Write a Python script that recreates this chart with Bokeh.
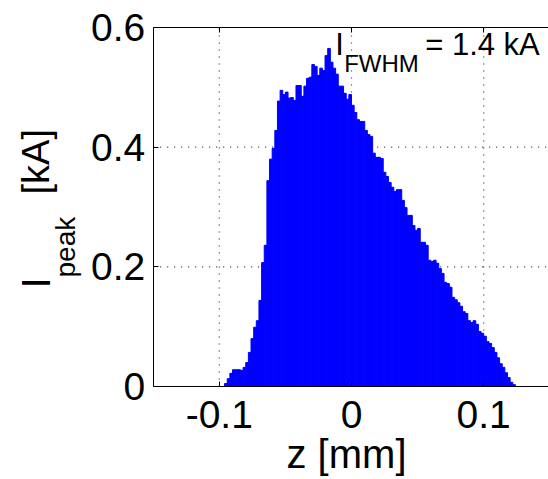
import numpy as np
from bokeh.plotting import figure
from bokeh.models import Label, LinearAxis, FixedTicker, Range1d, Grid
from bokeh.embed import file_html
from bokeh.resources import INLINE

# ---- data ----
z_center = [-0.095, -0.093, -0.091, -0.089, -0.087, -0.085, -0.083, -0.081, -0.079, -0.077,
            -0.075, -0.073, -0.071, -0.069, -0.067, -0.065, -0.063, -0.061, -0.059, -0.057,
            -0.055, -0.053, -0.051, -0.049, -0.047, -0.045, -0.043, -0.041, -0.039, -0.037,
            -0.035, -0.033, -0.031, -0.029, -0.027, -0.025, -0.023, -0.021, -0.019, -0.017,
            -0.015, -0.013, -0.011, -0.009, -0.007, -0.005, -0.003, -0.001, 0.001, 0.003,
            0.005, 0.007, 0.009, 0.011, 0.013, 0.015, 0.017, 0.019, 0.021, 0.023,
            0.025, 0.027, 0.029, 0.031, 0.033, 0.035, 0.037, 0.039, 0.041, 0.043,
            0.045, 0.047, 0.049, 0.051, 0.053, 0.055, 0.057, 0.059, 0.061, 0.063,
            0.065, 0.067, 0.069, 0.071, 0.073, 0.075, 0.077, 0.079, 0.081, 0.083,
            0.085, 0.087, 0.089, 0.091, 0.093, 0.095, 0.097, 0.099, 0.101, 0.103,
            0.105, 0.107, 0.109, 0.111, 0.113, 0.115, 0.117, 0.119, 0.121, 0.123]
bin_width = 0.002
current_kA = [0.005, 0.013, 0.022, 0.028, 0.028, 0.028, 0.027, 0.032, 0.040, 0.057,
              0.080, 0.099, 0.110, 0.144, 0.207, 0.236, 0.344, 0.380, 0.398, 0.428,
              0.477, 0.495, 0.488, 0.492, 0.482, 0.483, 0.478, 0.503, 0.503, 0.485,
              0.502, 0.515, 0.517, 0.538, 0.535, 0.520, 0.532, 0.528, 0.553, 0.565,
              0.542, 0.532, 0.522, 0.502, 0.502, 0.490, 0.480, 0.488, 0.470, 0.458,
              0.446, 0.443, 0.443, 0.428, 0.421, 0.418, 0.390, 0.383, 0.383, 0.381,
              0.358, 0.351, 0.341, 0.333, 0.326, 0.329, 0.329, 0.311, 0.299, 0.286,
              0.286, 0.269, 0.261, 0.264, 0.241, 0.241, 0.236, 0.211, 0.209, 0.211,
              0.206, 0.197, 0.189, 0.174, 0.172, 0.166, 0.149, 0.145, 0.140, 0.134,
              0.125, 0.122, 0.110, 0.107, 0.110, 0.104, 0.092, 0.089, 0.084, 0.075,
              0.072, 0.065, 0.057, 0.048, 0.038, 0.032, 0.023, 0.015, 0.007, 0.003]
x_ticks = [-0.1, 0.0, 0.1]
x_tick_labels = ["-0.1", "0", "0.1"]
y_ticks = [0.0, 0.2, 0.4, 0.6]
y_tick_labels = ["0", "0.2", "0.4", "0.6"]
x_limits = (-0.15, 0.15)
y_limits = (0.0, 0.6)
annotation_value = "= 1.4 kA"

FONT = "Liberation Sans"

# ---- layout: the plot frame covers the whole canvas; axes are drawn at fixed locations ----
W, H = 548, 479
AX_LEFT_PX, AX_BOTTOM_PX, AX_TOP_PX = 152.7, 386.0, 27.0
PX_PER_X = 1322.0
PX_PER_Y = (AX_BOTTOM_PX - AX_TOP_PX) / (y_limits[1] - y_limits[0])
x0 = x_limits[0] - AX_LEFT_PX / PX_PER_X
x1 = x0 + W / PX_PER_X
y0 = y_limits[0] - (H - AX_BOTTOM_PX) / PX_PER_Y
y1 = y0 + H / PX_PER_Y

p = figure(width=W, height=H, output_backend="svg", toolbar_location=None,
           x_range=Range1d(x0, x1), y_range=Range1d(y0, y1),
           x_axis_location=None, y_axis_location=None,
           min_border=0, min_border_left=0, min_border_right=0,
           min_border_top=0, min_border_bottom=0)
p.outline_line_color = None
p.background_fill_color = "white"
p.border_fill_color = "white"
# drop the default grids: grid lines are drawn only inside the axes box
p.center = [c for c in p.center if not isinstance(c, Grid)]

grid_style = dict(line_color="black", line_alpha=0.8, line_dash="1 6", line_width=1.2,
                  level="underlay")
n = len(x_ticks)
p.segment(x0=x_ticks, y0=[y_limits[0]] * n, x1=x_ticks, y1=[y_limits[1]] * n, **grid_style)
y_grid = [t for t in y_ticks if y_limits[0] < t < y_limits[1]]
m = len(y_grid)
p.segment(x0=[x_limits[0]] * m, y0=y_grid, x1=[x_limits[1]] * m, y1=y_grid, **grid_style)

left = [c - bin_width / 2 for c in z_center]
right = [c + bin_width / 2 for c in z_center]
p.quad(left=left, right=right, bottom=0, top=current_kA,
       fill_color="#0000ff", line_color="#0000ff", line_width=1)

common = dict(axis_line_color="black", major_tick_line_color="black",
              major_tick_in=5, major_tick_out=0, minor_tick_line_color=None,
              major_label_text_font=FONT, major_label_text_font_size="39px",
              major_label_text_color="black")

xaxis = LinearAxis(fixed_location=y_limits[0], bounds=x_limits,
                   ticker=FixedTicker(ticks=x_ticks),
                   major_label_overrides=dict(zip(x_ticks, x_tick_labels)),
                   major_label_standoff=14, **common)
p.add_layout(xaxis, "below")

yaxis = LinearAxis(fixed_location=x_limits[0], bounds=y_limits,
                   ticker=FixedTicker(ticks=y_ticks),
                   major_label_overrides=dict(zip(y_ticks, y_tick_labels)),
                   major_label_standoff=8, **common)
p.add_layout(yaxis, "left")

top_axis = LinearAxis(fixed_location=y_limits[1], bounds=x_limits,
                      ticker=FixedTicker(ticks=x_ticks), axis_line_color="black",
                      major_tick_line_color="black", major_tick_in=5, major_tick_out=0,
                      minor_tick_line_color=None, major_label_text_font_size="1px",
                      major_label_text_alpha=0, major_label_standoff=0)
p.add_layout(top_axis, "above")


def lab(text, xo, yo, size, x=x_limits[0], angle=0.0, align="left"):
    return Label(x=x, y=y_limits[0], x_units="data", y_units="data", x_offset=xo, y_offset=yo,
                 text=text, text_font=FONT, text_font_size=f"{size}px", angle=angle,
                 text_align=align, text_baseline="alphabetic", text_color="black")

# y-axis label: I_peak [kA]
p.add_layout(lab("I", -117, 98, 40, angle=np.pi / 2))
p.add_layout(lab("peak", -88, 109, 28, angle=np.pi / 2))
p.add_layout(lab("[kA]", -117, 192, 38, angle=np.pi / 2))
# x-axis label
p.add_layout(lab("z [mm]", -5, -67, 40, x=0.0, align="center"))
# annotation I_FWHM = 1.4 kA
p.add_layout(lab("I", 182, 342, 31))
p.add_layout(lab("FWHM", 191, 323, 24))
p.add_layout(lab(annotation_value, 272, 342, 31))

open("out.html", "w").write(file_html(p, INLINE))
